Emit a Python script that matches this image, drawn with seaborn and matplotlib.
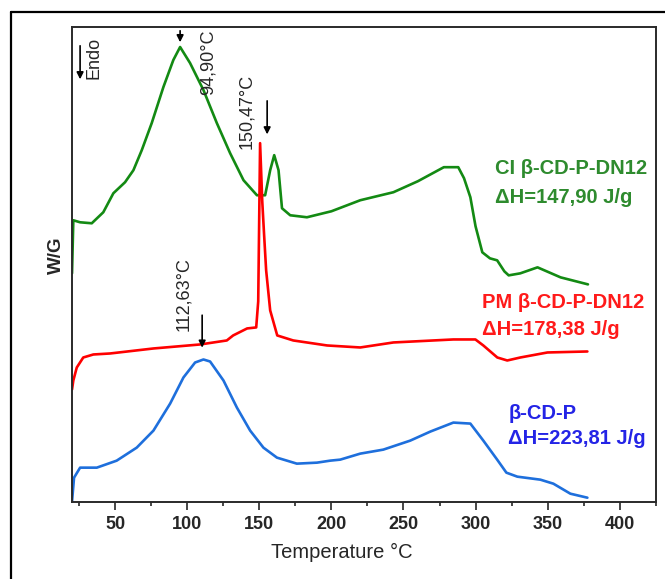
import numpy as np
import pandas as pd
import seaborn as sns
import matplotlib.pyplot as plt
from matplotlib.lines import Line2D
from matplotlib.ticker import MultipleLocator

# -----------------------------
# DSC curves (temperature in °C, heat flow in arbitrary offset units)
# -----------------------------
ci_temp = [20.0, 20.9, 25.6, 33.7, 41.7, 48.7, 56.8, 62.6, 68.4, 75.3, 83.4, 90.3, 95,
           101.9, 111.2, 120.5, 129.7, 139, 148.3, 154, 157.5, 160.3, 163.3, 165.7,
           171.4, 183, 200, 220, 243, 260, 278, 288, 292, 296.4, 300, 304.7, 310, 315,
           320, 323, 331, 343, 359, 378]
ci_flow = [228, 281, 279, 278, 289, 308, 319, 331, 351, 378, 414, 441, 454,
           438, 411, 378, 348, 321, 306, 306, 331, 346, 331, 293,
           286, 284, 290, 301, 309, 320, 334, 334, 323, 304, 275, 249, 243, 241,
           230, 226, 228, 234, 224, 217]

pm_temp = [20.0, 20.9, 23.3, 27.8, 34.8, 46.4, 76.5, 108.9, 127.4, 131.8, 141.5, 147.8,
           149.2, 150.5, 152, 153.3, 154.7, 157.5, 162.4, 173.5, 197, 220, 243, 284.6,
           299.9, 305.4, 315.1, 322, 331.1, 349.9, 377.6]
pm_flow = [112, 121, 134, 144, 147, 148, 153, 157, 161, 166, 173, 174,
           200, 358, 300, 266, 231, 191, 166, 161, 156, 154, 159, 162,
           162, 156, 144, 141, 144, 149, 150]

bp_temp = [20.0, 21.4, 25.6, 37.2, 51, 64.9, 76.5, 88.1, 97.3, 105.4, 111.2, 115.8, 125.1,
           134.4, 143.6, 152.8, 162.2, 176, 190, 199.2, 206.1, 220, 236, 254.7, 268.6,
           284.6, 296.4, 305.4, 315, 321.4, 329, 345, 354, 365.8, 377.6]
bp_flow = [0, 24, 34, 34, 41, 54, 71, 98, 124, 139, 142, 140, 121,
           94, 71, 54, 44, 38, 39, 41, 42, 48, 52, 61, 70,
           79, 78, 61, 42, 29, 25, 22, 18, 8, 4]

x_ticks = [50, 100, 150, 200, 250, 300, 350, 400]

sns.set_style("white")
plt.rcParams['font.family'] = ['Liberation Sans', 'DejaVu Sans']

fig = plt.figure(figsize=(6.65, 5.79), dpi=100)
ax = fig.add_axes([0.1083, 0.1335, 0.986 - 0.1083, 0.9534 - 0.1335])

curves = [
    (ci_temp, ci_flow, "#138a13"),
    (pm_temp, pm_flow, "#ff0000"),
    (bp_temp, bp_flow, "#1e6fdc"),
]
for t, f, c in curves:
    df = pd.DataFrame({"T": t, "W": f})
    sns.lineplot(data=df, x="T", y="W", sort=False, estimator=None,
                 color=c, linewidth=1.9, ax=ax)

ax.set_xlim(20, 425)
ax.set_ylim(0, 474)
ax.set_xticks(x_ticks)
ax.xaxis.set_minor_locator(MultipleLocator(25))
ax.set_yticks([])
ax.tick_params(axis="x", which="major", direction="out", length=5.5, width=1.2,
               labelsize=13, pad=5, bottom=True)
ax.tick_params(axis="x", which="minor", direction="out", length=3, width=1.2, bottom=True)
for lab in ax.get_xticklabels():
    lab.set_fontweight("bold")
for s in ax.spines.values():
    s.set_visible(True)
    s.set_color("#2a2a2a")
    s.set_linewidth(1.4)

ax.set_xlabel("Temperature °C", fontsize=14.5)
ax.xaxis.set_label_coords(0.463, -0.087)
ax.set_ylabel("W/G", fontsize=13.5, fontweight="bold")
ax.yaxis.set_label_coords(-0.012, 0.52)

# peak annotations
arrow = dict(arrowstyle="-|>", color="black", lw=1.2, mutation_scale=10)
ax.annotate("", xy=(95, 456), xytext=(95, 473), arrowprops=arrow)
ax.annotate("", xy=(155.4, 364), xytext=(155.4, 403), arrowprops=arrow)
ax.annotate("", xy=(110.3, 151), xytext=(110.3, 189), arrowprops=arrow)
ax.annotate("", xy=(25.6, 419), xytext=(25.6, 458), arrowprops=arrow)

ax.text(114.4, 439, "94,90°C", rotation=90, ha="center", va="center", fontsize=13)
ax.text(141.5, 390, "150,47°C", rotation=90, ha="center", va="center", fontsize=13)
ax.text(97.1, 207, "112,63°C", rotation=90, ha="center", va="center", fontsize=13)
ax.text(35.3, 443, "Endo", rotation=90, ha="center", va="center", fontsize=13)

# sample labels
lab_kw = dict(fontsize=14.5, fontweight="bold", ha="left", va="center")
ax.text(313.7, 333, "CI β-CD-P-DN12", color="#2e8b2e", **lab_kw)
ax.text(313.7, 304, "ΔH=147,90 J/g", color="#2e8b2e", **lab_kw)
ax.text(304.7, 199, "PM β-CD-P-DN12", color="#ff1a1a", **lab_kw)
ax.text(304.7, 172, "ΔH=178,38 J/g", color="#ff1a1a", **lab_kw)
ax.text(322.8, 88, "β-CD-P", color="#2424e6", **lab_kw)
ax.text(322.8, 63, "ΔH=223,81 J/g", color="#2424e6", **lab_kw)

# outer frame lines of the original figure
fig.add_artist(Line2D([11 / 665, 1.0], [1 - 12 / 579, 1 - 12 / 579],
                      transform=fig.transFigure, color="black", lw=1.6))
fig.add_artist(Line2D([11 / 665, 11 / 665], [0.0, 1 - 12 / 579],
                      transform=fig.transFigure, color="black", lw=1.6))

fig.savefig("out.png", dpi=100)
plt.close(fig)
